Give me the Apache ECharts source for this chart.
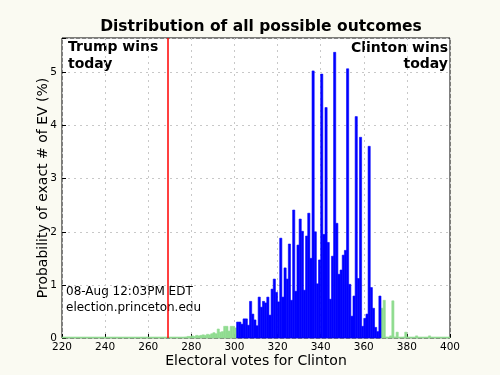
<!DOCTYPE html>
<html>
<head>
<meta charset="utf-8">
<script src="https://cdn.jsdelivr.net/npm/echarts@6/dist/echarts.min.js"></script>
<style>
  html, body { margin: 0; padding: 0; background: #fafaf2; }
  #chart { width: 500px; height: 375px; }
</style>
</head>
<body>
<div id="chart"></div>
<script>
// probabilities (%) per electoral vote count
const blueStart = 301;
const blueValues = [
  0.30, 0.30, 0.26, 0.36, 0.36, 0.24, 0.69, 0.45, 0.34, 0.23, // 301-310
  0.77, 0.58, 0.69, 0.66, 0.77, 0.43, 0.92, 1.11, 0.86, 0.68, // 311-320
  1.88, 0.77, 1.32, 1.11, 1.77, 0.71, 2.41, 0.88, 1.75, 2.24, // 321-330
  2.01, 0.90, 1.92, 2.35, 1.50, 5.03, 2.00, 1.02, 1.47, 4.97, // 331-340
  1.95, 4.34, 1.80, 0.73, 1.54, 5.38, 2.16, 1.20, 1.28, 1.56, // 341-350
  1.65, 5.07, 1.01, 0.41, 0.79, 4.17, 1.12, 3.78, 0.22, 0.37, // 351-360
  0.45, 3.61, 0.95, 0.56, 0.20, 0.12, 0.79                    // 361-367
];

const greenLeftStart = 220;
const greenLeftValues = [
  0, 0, 0, 0, 0, 0, 0, 0, 0, 0,                               // 220-229
  0, 0, 0, 0, 0, 0, 0, 0, 0, 0,                               // 230-239
  0, 0, 0, 0, 0, 0, 0, 0, 0, 0,                               // 240-249
  0, 0, 0, 0, 0, 0, 0, 0, 0, 0,                               // 250-259
  0, 0, 0, 0, 0, 0, 0, 0, 0, 0,                               // 260-269
  0, 0, 0, 0, 0, 0.005, 0.01, 0.02, 0.03, 0.03,               // 270-279
  0.04, 0.03, 0.05, 0.04, 0.05, 0.06, 0.05, 0.07, 0.06, 0.08, // 280-289
  0.10, 0.08, 0.17, 0.11, 0.12, 0.22, 0.22, 0.13, 0.22, 0.22, // 290-299
  0.19                                                        // 300
];

const greenRightStart = 368;
const greenRightValues = [
  0.56, 0.71, 0.02, 0.01, 0.04, 0.70, 0.02, 0.11, 0.01, 0.01, // 368-377
  0.02, 0.11, 0.02, 0.01, 0.01, 0.01, 0.04, 0.01, 0.01, 0.01, // 378-387
  0.01, 0.01, 0.04, 0, 0, 0, 0, 0, 0, 0, 0, 0                 // 388-399
];

const xTicks = [220, 240, 260, 280, 300, 320, 340, 360, 380, 400];
const tieLine = 269;

const toPairs = (start, vals) => vals.map((v, i) => [start + i, v]);
const greenData = toPairs(greenLeftStart, greenLeftValues).concat(toPairs(greenRightStart, greenRightValues));
const blueData = toPairs(blueStart, blueValues);

const font = "DejaVu Sans";

// one bar = one electoral vote wide, zero bars still show a 1px edge
function barRenderer(color) {
  return function (params, api) {
    const ev = api.value(0);
    const v = api.value(1);
    const p0 = api.coord([ev, 0]);
    const p1 = api.coord([ev + 1, v]);
    const h = Math.max(p0[1] - p1[1], 1);
    return {
      type: "rect",
      shape: { x: p0[0], y: p0[1] - h, width: p1[0] - p0[0], height: h },
      style: { fill: color, stroke: color, lineWidth: 0.6 }
    };
  };
}

const chart = echarts.init(document.getElementById("chart"));

chart.setOption({
  backgroundColor: "#fafaf2",
  animation: false,
  title: {
    text: "Distribution of all possible outcomes",
    left: 256, top: 14, textAlign: "center",
    textStyle: { fontFamily: font, fontSize: 15.5, fontWeight: "bold", color: "#000" }
  },
  grid: {
    left: 62, right: 50, top: 38, bottom: 37,
    show: true, backgroundColor: "#fff", borderColor: "#000", borderWidth: 1
  },
  xAxis: {
    type: "value", min: 220, max: 400, interval: 20,
    name: "Electoral votes for Clinton",
    nameLocation: "middle", nameGap: 16, nameMoveOverlap: false,
    nameTextStyle: { fontFamily: font, fontSize: 14, color: "#000" },
    axisLine: { show: false },
    axisTick: { show: true, inside: true, length: 4, lineStyle: { color: "#000" } },
    axisLabel: { fontFamily: font, fontSize: 10.5, color: "#000", margin: 4,
      formatter: v => xTicks.includes(v) ? String(v) : "" },
    splitLine: { show: true, lineStyle: { color: "#c8c8c8", type: [2, 4] } }
  },
  yAxis: {
    type: "value", min: 0, max: 5.65, interval: 1,
    name: "Probability of exact # of EV (%)",
    nameLocation: "middle", nameGap: 12, nameMoveOverlap: false,
    nameTextStyle: { fontFamily: font, fontSize: 14, color: "#000" },
    axisLine: { show: false },
    axisTick: { show: true, inside: true, length: 4, lineStyle: { color: "#000" } },
    axisLabel: { fontFamily: font, fontSize: 10.5, color: "#000", margin: 5,
      formatter: v => Number.isInteger(v) ? String(v) : "" },
    splitLine: { show: true, lineStyle: { color: "#c8c8c8", type: [2, 4] } }
  },
  series: [
    {
      type: "custom", name: "outside",
      renderItem: barRenderer("#90dc90"),
      encode: { x: 0, y: 1 },
      data: greenData,
      z: 2
    },
    {
      type: "custom", name: "inside",
      renderItem: barRenderer("#0000ff"),
      encode: { x: 0, y: 1 },
      data: blueData,
      z: 3,
      markLine: {
        silent: true, symbol: "none", animation: false,
        label: { show: false },
        lineStyle: { color: "#ff0000", width: 1.5, type: "solid" },
        data: [{ xAxis: tieLine }]
      }
    }
  ],
  graphic: [
    { type: "text", left: 68, top: 39,
      style: { text: "Trump wins\ntoday", font: "bold 14px 'DejaVu Sans'", fill: "#000", lineHeight: 17 } },
    { type: "text", x: 448, y: 41,
      style: { text: "Clinton wins", font: "bold 14px 'DejaVu Sans'", fill: "#000", align: "right", verticalAlign: "top" } },
    { type: "text", x: 448, y: 57,
      style: { text: "today", font: "bold 14px 'DejaVu Sans'", fill: "#000", align: "right", verticalAlign: "top" } },
    { type: "text", left: 66, top: 284,
      style: { text: "08-Aug 12:03PM EDT\nelection.princeton.edu", font: "12px 'DejaVu Sans'", fill: "#000", lineHeight: 16 } }
  ]
});
</script>
</body>
</html>
